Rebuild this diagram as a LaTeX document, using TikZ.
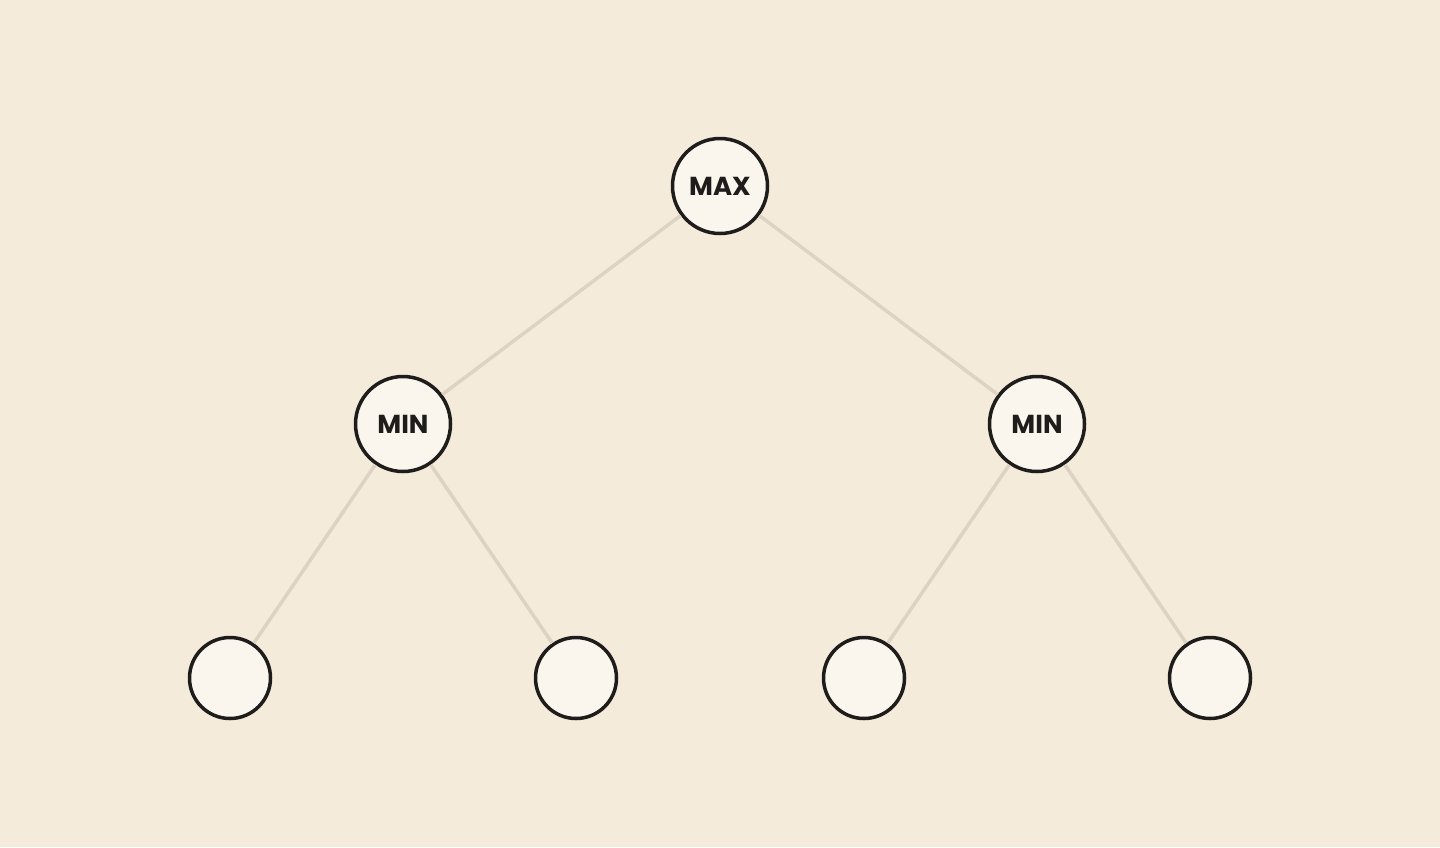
\documentclass[tikz,border=0pt]{standalone}
\usepackage{fontspec}
\setmainfont{Poppins}
\definecolor{bg}{HTML}{F5EBDA}
\definecolor{nodefill}{HTML}{FAF6EE}
\definecolor{ink}{HTML}{1F1D1B}
\definecolor{edge}{HTML}{DDD3C4}
\begin{document}
\begin{tikzpicture}[x=1pt,y=-1pt,
  inner/.style={circle,draw=ink,fill=nodefill,line width=3.5pt,minimum size=95pt,inner sep=0pt,
    font=\fontsize{26}{30}\selectfont\bfseries,text=ink},
  leaf/.style={circle,draw=ink,fill=nodefill,line width=3.5pt,minimum size=81pt,inner sep=0pt},
  link/.style={draw=edge,line width=3.5pt}]
\fill[bg] (0,0) rectangle (1440,847);
\useasboundingbox (0,0) rectangle (1440,847);
\node[inner] (root) at (720,186) {MAX};
\node[inner] (l) at (403,424) {MIN};
\node[inner] (r) at (1037,424) {MIN};
\node[leaf] (ll) at (230,678) {};
\node[leaf] (lr) at (576,678) {};
\node[leaf] (rl) at (864,678) {};
\node[leaf] (rr) at (1210,678) {};
\draw[link] (root) -- (l);
\draw[link] (root) -- (r);
\draw[link] (l) -- (ll);
\draw[link] (l) -- (lr);
\draw[link] (r) -- (rl);
\draw[link] (r) -- (rr);
\end{tikzpicture}
\end{document}
